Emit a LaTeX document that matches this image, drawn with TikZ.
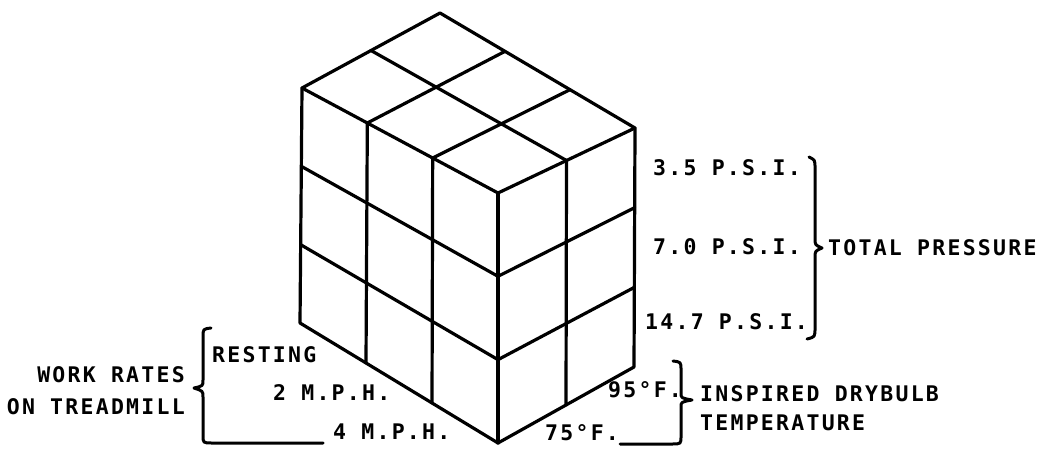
\documentclass[tikz,border=0pt]{standalone}
\usepackage{fontspec}
\usepackage{tikz}
\usetikzlibrary{calc}
\newfontfamily\lettering[LetterSpace=10.5]{DejaVu Sans Mono}

\begin{document}
\begin{tikzpicture}[x=1pt, y=-1pt,
    cubeline/.style={line width=3.2pt, line join=round, line cap=round},
    brace/.style={line width=3pt, line join=round, line cap=round},
    lbl/.style={font=\lettering\bfseries\fontsize{21.5}{25}\selectfont, inner sep=0pt, anchor=west}]
  \useasboundingbox (0,0) rectangle (1048,449);

  % corners of the block
  \coordinate (L) at (302,88);
  \coordinate (T) at (440,13);
  \coordinate (R) at (635,128);
  \coordinate (F) at (498,193);
  \coordinate (Lb) at (300,323);
  \coordinate (Fb) at (498,443);
  \coordinate (Rb) at (634,367);

  % outline
  \draw[cubeline] (L) -- (T) -- (R) -- (Rb) -- (Fb) -- (Lb) -- cycle;
  \draw[cubeline] (L) -- (F) -- (R);
  \draw[cubeline] (F) -- (Fb);

  % grid on the faces
  \foreach \t in {0.3333,0.6667} {
    \draw[cubeline] ($(L)!\t!(F)$) -- ($(Lb)!\t!(Fb)$);
    \draw[cubeline] ($(L)!\t!(Lb)$) -- ($(F)!\t!(Fb)$);
    \draw[cubeline] ($(F)!\t!(Fb)$) -- ($(R)!\t!(Rb)$);
    \draw[cubeline] ($(L)!\t!(F)$) -- ($(T)!\t!(R)$);
  }
  \draw[cubeline] ($(F)!0.5!(R)$) -- ($(Fb)!0.5!(Rb)$);
  \draw[cubeline] ($(L)!0.5!(T)$) -- ($(F)!0.5!(R)$);

  % pressure
  \node[lbl] (p35) at (653,168) {3.5 P.S.I.};
  \node[lbl] (p70) at (653,247) {7.0 P.S.I.};
  \node[lbl] (p147) at (645,322) {14.7 P.S.I.};
  \node[lbl] (total) at (828,248) {TOTAL PRESSURE};
  \draw[brace] (809,157) .. controls (815,160) .. (815,168) -- (815,238)
    .. controls (815,245) .. (822,248) .. controls (815,251) .. (815,258)
    -- (815,328) .. controls (815,337) .. (807,339);

  % work rates
  \node[lbl, anchor=east] (work) at (185,375) {WORK RATES};
  \node[lbl, anchor=east] (tread) at (185,407) {ON TREADMILL};
  \node[lbl] (rest) at (212,355) {RESTING};
  \node[lbl] (mph2) at (273,393) {2 M.P.H.};
  \node[lbl] (mph4) at (333,432) {4 M.P.H.};
  \draw[brace] (211,328) .. controls (203,329) .. (203,337) -- (203,380)
    .. controls (203,386) .. (194,388) .. controls (203,391) .. (203,397)
    -- (203,435) .. controls (203,443) .. (212,443) -- (323,443);

  % temperature
  \node[lbl] (t95) at (608,390) {95°F.};
  \node[lbl] (t75) at (545,433) {75°F.};
  \node[lbl] (insp) at (700,394) {INSPIRED DRYBULB};
  \node[lbl] (temp) at (700,423) {TEMPERATURE};
  \draw[brace] (673,361) .. controls (681,362) .. (681,370) -- (681,393)
    .. controls (681,398) .. (692,400) .. controls (681,402) .. (681,407)
    -- (681,436) .. controls (681,444) .. (672,444) -- (620,444);
\end{tikzpicture}
\end{document}
